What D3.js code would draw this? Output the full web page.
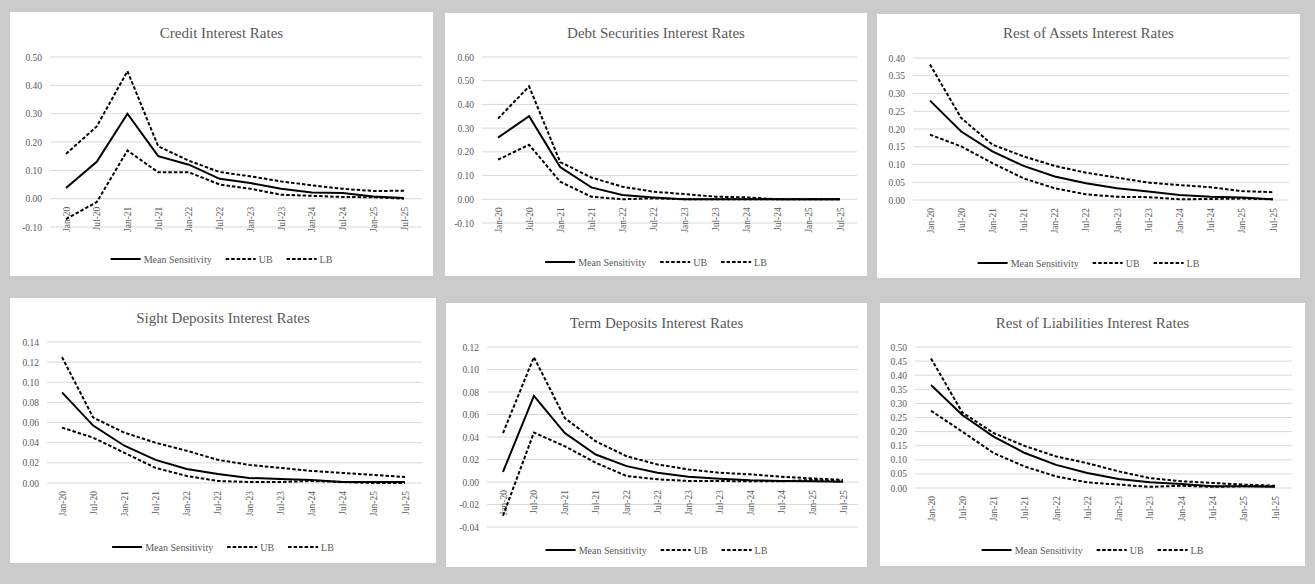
<!DOCTYPE html>
<html>
<head>
<meta charset="utf-8">
<script src="https://cdn.jsdelivr.net/npm/d3@7"></script>
<style>
  html, body { margin: 0; padding: 0; background: #cbcbcb; }
  svg { display: block; }
  text { font-family: "Liberation Serif", "DejaVu Serif", serif; fill: #595959; }
</style>
</head>
<body>
<svg id="chart" width="1315" height="584"></svg>
<script>
// Horizon categories shared by all six panels
const categories = ["Jan-20", "Jul-20", "Jan-21", "Jul-21", "Jan-22", "Jul-22",
                    "Jan-23", "Jul-23", "Jan-24", "Jul-24", "Jan-25", "Jul-25"];
const seriesNames = ["Mean Sensitivity", "UB", "LB"];

// Credit
const creditMean = [0.038, 0.130, 0.300, 0.150, 0.120, 0.070, 0.055, 0.035, 0.022, 0.020, 0.008, 0.002];
const creditUB   = [0.158, 0.255, 0.450, 0.185, 0.134, 0.094, 0.079, 0.061, 0.047, 0.035, 0.027, 0.028];
const creditLB   = [-0.072, -0.012, 0.170, 0.093, 0.093, 0.050, 0.035, 0.014, 0.010, 0.006, 0.005, 0.000];
const creditTicks = [-0.10, 0.00, 0.10, 0.20, 0.30, 0.40, 0.50];

// Debt securities
const debtMean = [0.260, 0.350, 0.136, 0.050, 0.018, 0.008, 0.000, 0.000, 0.000, 0.000, 0.000, 0.000];
const debtUB   = [0.340, 0.476, 0.157, 0.092, 0.053, 0.032, 0.022, 0.011, 0.008, 0.000, 0.000, 0.000];
const debtLB   = [0.167, 0.230, 0.074, 0.011, 0.000, 0.004, 0.000, 0.000, 0.000, 0.000, 0.000, 0.000];
const debtTicks = [-0.10, 0.00, 0.10, 0.20, 0.30, 0.40, 0.50, 0.60];

// Rest of assets
const assetsMean = [0.280, 0.193, 0.137, 0.096, 0.066, 0.047, 0.033, 0.024, 0.014, 0.009, 0.007, 0.002];
const assetsUB   = [0.382, 0.231, 0.156, 0.123, 0.096, 0.077, 0.063, 0.049, 0.042, 0.036, 0.025, 0.022];
const assetsLB   = [0.184, 0.151, 0.104, 0.061, 0.033, 0.016, 0.009, 0.008, 0.002, 0.003, 0.004, 0.002];
const assetsTicks = [0.00, 0.05, 0.10, 0.15, 0.20, 0.25, 0.30, 0.35, 0.40];

// Sight deposits
const sightMean = [0.090, 0.057, 0.037, 0.023, 0.014, 0.009, 0.005, 0.004, 0.003, 0.001, 0.001, 0.001];
const sightUB   = [0.125, 0.065, 0.050, 0.040, 0.032, 0.023, 0.018, 0.015, 0.012, 0.010, 0.008, 0.006];
const sightLB   = [0.055, 0.045, 0.030, 0.015, 0.007, 0.002, 0.001, 0.001, 0.002, 0.001, 0.000, 0.000];
const sightTicks = [0.00, 0.02, 0.04, 0.06, 0.08, 0.10, 0.12, 0.14];

// Term deposits
const termMean = [0.009, 0.0765, 0.0435, 0.0244, 0.0141, 0.0082, 0.0047, 0.0029, 0.0015, 0.0009, 0.0006, 0.0003];
const termUB   = [0.0435, 0.111, 0.0568, 0.0362, 0.0229, 0.0156, 0.0112, 0.0082, 0.0068, 0.0047, 0.0032, 0.0018];
const termLB   = [-0.030, 0.044, 0.0318, 0.0171, 0.0053, 0.0024, 0.0009, 0.0009, 0.0006, 0.0006, 0.0018, 0.0003];
const termTicks = [-0.04, -0.02, 0.00, 0.02, 0.04, 0.06, 0.08, 0.10, 0.12];

// Rest of liabilities
const liabMean = [0.365, 0.259, 0.182, 0.124, 0.082, 0.053, 0.032, 0.020, 0.014, 0.006, 0.006, 0.004];
const liabUB   = [0.459, 0.268, 0.195, 0.149, 0.112, 0.088, 0.059, 0.035, 0.024, 0.018, 0.012, 0.008];
const liabLB   = [0.274, 0.200, 0.124, 0.076, 0.041, 0.020, 0.012, 0.004, 0.008, 0.004, 0.006, 0.006];
const liabTicks = [0.00, 0.05, 0.10, 0.15, 0.20, 0.25, 0.30, 0.35, 0.40, 0.45, 0.50];

// Panel layout: outer card, grid extent, first/last category position, y range
const panels = [
  { title: "Credit Interest Rates", series: [creditMean, creditUB, creditLB], ticks: creditTicks,
    box: [10, 12, 433, 276], grid: [50, 422], pts: [66, 404], yr: [227, 57], titleY: 38, legendY: 259 },
  { title: "Debt Securities Interest Rates", series: [debtMean, debtUB, debtLB], ticks: debtTicks,
    box: [445, 13, 867, 276], grid: [482, 857], pts: [498, 840], yr: [223, 57], titleY: 38, legendY: 262 },
  { title: "Rest of Assets Interest Rates", series: [assetsMean, assetsUB, assetsLB], ticks: assetsTicks,
    box: [877, 14, 1300, 278], grid: [913, 1289], pts: [930, 1273], yr: [200, 58], titleY: 38, legendY: 263 },
  { title: "Sight Deposits Interest Rates", series: [sightMean, sightUB, sightLB], ticks: sightTicks,
    box: [10, 298, 436, 563], grid: [47, 422], pts: [62, 405], yr: [483, 342], titleY: 323, legendY: 547 },
  { title: "Term Deposits Interest Rates", series: [termMean, termUB, termLB], ticks: termTicks,
    box: [446, 303, 867, 567], grid: [487, 858], pts: [503, 843], yr: [527, 347], titleY: 328, legendY: 550 },
  { title: "Rest of Liabilities Interest Rates", series: [liabMean, liabUB, liabLB], ticks: liabTicks,
    box: [880, 303, 1305, 566], grid: [915, 1292], pts: [931, 1275], yr: [488, 347], titleY: 328, legendY: 550 }
];

const svg = d3.select("#chart");
const fmt = v => (Math.abs(v) < 1e-9 ? 0 : v).toFixed(2);
const dashFor = i => (i === 0 ? null : "3.5,2");

panels.forEach(p => {
  const g = svg.append("g");
  const [bx0, by0, bx1, by1] = p.box;

  g.append("rect")
    .attr("x", bx0).attr("y", by0)
    .attr("width", bx1 - bx0).attr("height", by1 - by0)
    .attr("fill", "#ffffff");

  const x = d3.scalePoint().domain(categories).range(p.pts);
  const y = d3.scaleLinear()
    .domain([d3.min(p.ticks), d3.max(p.ticks)])
    .range(p.yr);

  // horizontal gridlines
  g.append("g").selectAll("line").data(p.ticks).join("line")
    .attr("x1", p.grid[0]).attr("x2", p.grid[1])
    .attr("y1", d => y(d)).attr("y2", d => y(d))
    .attr("stroke", "#d9d9d9").attr("stroke-width", 1);

  // y-axis labels
  const yAxis = d3.axisLeft(y).tickValues(p.ticks).tickFormat(fmt).tickSize(0).tickPadding(8);
  const ya = g.append("g").attr("transform", `translate(${p.grid[0]},0)`).call(yAxis);
  ya.select(".domain").remove();
  ya.selectAll("text").attr("font-size", 9.5).attr("fill", "#6a6a6a")
    .attr("font-family", "Liberation Serif, serif");

  // x-axis labels, rotated, next to the zero line
  const xAxis = d3.axisBottom(x).tickSize(0).tickPadding(0);
  const xa = g.append("g").attr("transform", `translate(0,${y(0)})`).call(xAxis);
  xa.select(".domain").remove();
  xa.selectAll("text")
    .attr("font-size", 9.5).attr("fill", "#6a6a6a")
    .attr("font-family", "Liberation Serif, serif")
    .attr("text-anchor", "end")
    .attr("transform", "rotate(-90)")
    .attr("x", -8).attr("y", 0).attr("dy", "0.32em");

  // series lines
  const line = d3.line().x((d, i) => x(categories[i])).y(d => y(d));
  p.series.forEach((vals, i) => {
    g.append("path")
      .datum(vals)
      .attr("d", line)
      .attr("fill", "none")
      .attr("stroke", "#000000")
      .attr("stroke-width", 2)
      .attr("stroke-dasharray", dashFor(i));
  });

  // title
  g.append("text")
    .attr("x", (bx0 + bx1) / 2).attr("y", p.titleY)
    .attr("text-anchor", "middle")
    .attr("font-size", 15)
    .text(p.title);

  // legend, centred under the card
  const lg = g.append("g");
  let cx = 0;
  seriesNames.forEach((name, i) => {
    const item = lg.append("g").attr("transform", `translate(${cx},0)`);
    item.append("line")
      .attr("x1", 0).attr("x2", 30).attr("y1", 0).attr("y2", 0)
      .attr("stroke", "#000").attr("stroke-width", 2)
      .attr("stroke-dasharray", dashFor(i));
    const t = item.append("text")
      .attr("x", 33).attr("y", 0).attr("dy", "0.35em")
      .attr("font-size", 10)
      .text(name);
    cx += 33 + t.node().getComputedTextLength() + 14;
  });
  const lw = cx - 14;
  lg.attr("transform", `translate(${(bx0 + bx1) / 2 - lw / 2},${p.legendY})`);
});
</script>
</body>
</html>
